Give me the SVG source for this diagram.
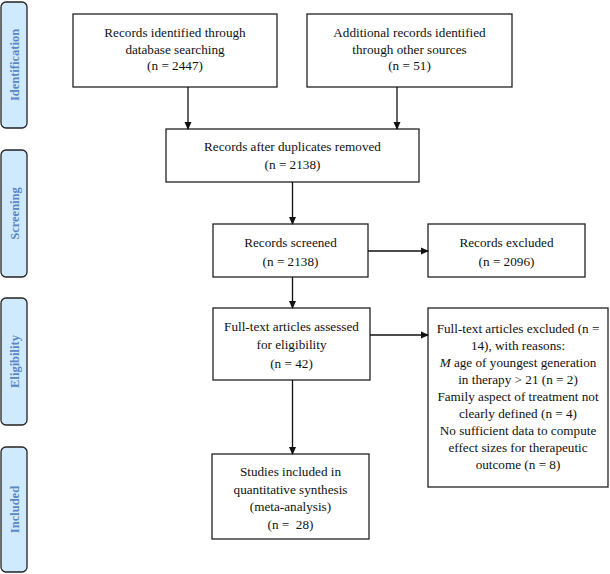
<svg xmlns="http://www.w3.org/2000/svg" width="610" height="574" viewBox="0 0 610 574">
<style>
.box{fill:#fff;stroke:#222;stroke-width:1.3}
.side{fill:#cfeafc;stroke:#222;stroke-width:1.3}
.t{font-family:"Liberation Serif","Times New Roman",serif;font-size:13.2px;fill:#111;text-anchor:middle}
.s{font-family:"Liberation Serif","Times New Roman",serif;font-size:12.5px;font-weight:bold;fill:#5b86c5;text-anchor:middle}
.c{stroke:#111;stroke-width:1.3;fill:none;marker-end:url(#ah)}
</style>
<defs>
<marker id="ah" markerWidth="8" markerHeight="8" refX="7" refY="4" orient="auto" markerUnits="userSpaceOnUse">
<path d="M0,0.5 L8,4 L0,7.5 Z" fill="#111"/>
</marker>
</defs>
<g id="side-identification"><rect class="side" x="1" y="2" width="26" height="126" rx="5"/><text class="s" transform="translate(18.5,65) rotate(-90)">Identification</text></g>
<g id="side-screening"><rect class="side" x="1" y="150" width="26" height="127" rx="5"/><text class="s" transform="translate(18.5,213.5) rotate(-90)">Screening</text></g>
<g id="side-eligibility"><rect class="side" x="1" y="298" width="26" height="127" rx="5"/><text class="s" transform="translate(18.5,361.5) rotate(-90)">Eligibility</text></g>
<g id="side-included"><rect class="side" x="1" y="447" width="26" height="125" rx="5"/><text class="s" transform="translate(18.5,509.5) rotate(-90)">Included</text></g>

<g id="n-database"><rect class="box" x="73" y="14" width="204" height="73"/>
<text class="t" x="175" y="37">Records identified through</text>
<text class="t" x="175" y="53.5">database searching</text>
<text class="t" x="175" y="70">(n = 2447)</text></g>

<g id="n-other"><rect class="box" x="307" y="14" width="205" height="73"/>
<text class="t" x="409.5" y="37">Additional records identified</text>
<text class="t" x="409.5" y="53.5">through other sources</text>
<text class="t" x="409.5" y="70">(n = 51)</text></g>

<g id="n-dup"><rect class="box" x="166" y="129" width="253" height="53"/>
<text class="t" x="292.5" y="151">Records after duplicates removed</text>
<text class="t" x="292.5" y="168.5">(n = 2138)</text></g>

<g id="n-screened"><rect class="box" x="213" y="224" width="155" height="53"/>
<text class="t" x="290.5" y="247">Records screened</text>
<text class="t" x="290.5" y="266">(n = 2138)</text></g>

<g id="n-excluded"><rect class="box" x="428" y="224" width="157" height="53"/>
<text class="t" x="506.5" y="247">Records excluded</text>
<text class="t" x="506.5" y="266">(n = 2096)</text></g>

<g id="n-fulltext"><rect class="box" x="213" y="308" width="157" height="72"/>
<text class="t" x="291.5" y="331">Full-text articles assessed</text>
<text class="t" x="291.5" y="349">for eligibility</text>
<text class="t" x="291.5" y="367.5">(n = 42)</text></g>

<g id="n-ftexcluded"><rect class="box" x="428" y="308" width="180" height="179"/>
<text class="t" x="518" y="333">Full-text articles excluded (n =</text>
<text class="t" x="518" y="350">14), with reasons:</text>
<text class="t" x="518" y="367"><tspan font-style="italic">M</tspan> age of youngest generation</text>
<text class="t" x="518" y="384">in therapy &gt; 21 (n = 2)</text>
<text class="t" x="518" y="401">Family aspect of treatment not</text>
<text class="t" x="518" y="418">clearly defined (n = 4)</text>
<text class="t" x="518" y="435">No sufficient data to compute</text>
<text class="t" x="518" y="452">effect sizes for therapeutic</text>
<text class="t" x="518" y="469">outcome (n = 8)</text></g>

<g id="n-included"><rect class="box" x="212" y="454" width="157" height="85"/>
<text class="t" x="290.5" y="476">Studies included in</text>
<text class="t" x="290.5" y="493.5">quantitative synthesis</text>
<text class="t" x="290.5" y="511">(meta-analysis)</text>
<text class="t" x="290.5" y="528.5">(n =&#160; 28)</text></g>

<g id="connectors">
<line class="c" x1="188" y1="87" x2="188" y2="129"/>
<line class="c" x1="397" y1="87" x2="397" y2="129"/>
<line class="c" x1="292.5" y1="182" x2="292.5" y2="224"/>
<line class="c" x1="368" y1="251" x2="428" y2="251"/>
<line class="c" x1="292.5" y1="277" x2="292.5" y2="308"/>
<line class="c" x1="370" y1="335" x2="428" y2="335"/>
<line class="c" x1="292.5" y1="380" x2="292.5" y2="454"/>
</g>
</svg>
